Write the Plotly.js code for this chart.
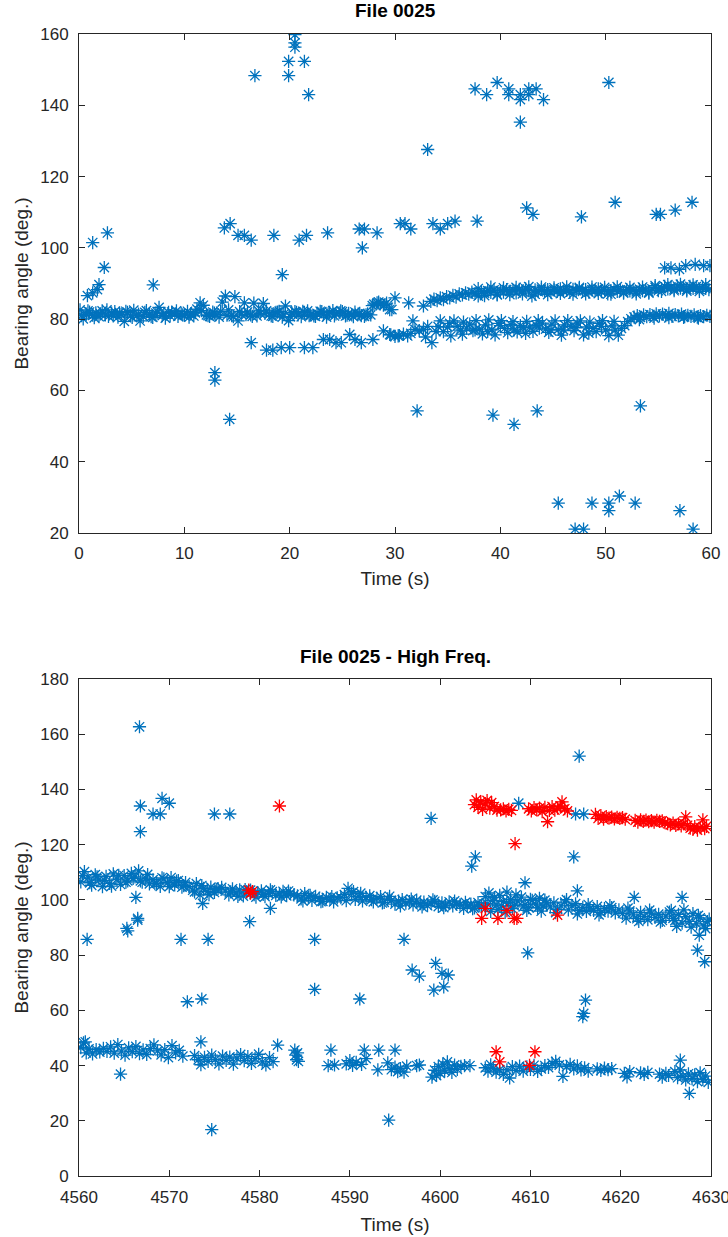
<!DOCTYPE html>
<html>
<head>
<meta charset="utf-8">
<script src="https://cdn.plot.ly/plotly-3.0.1.min.js"></script>
<style>html,body{margin:0;padding:0;background:#fff;}#chart{width:728px;height:1237px;}</style>
</head>
<body>
<div id="chart"></div>
<script>
// ---------- Top chart: File 0025 (time s, bearing deg) ----------
const topBandA = [[0.1,82.6],[0.4,80.1],[0.7,81.4],[1.0,82.0],[1.3,81.1],[1.6,81.8],[1.9,80.7],[2.2,82.3],[2.5,81.2],[2.8,80.8],
[3.1,81.7],[3.4,82.1],[3.7,80.6],[4.0,81.3],[4.3,79.4],[4.6,81.9],[4.9,80.9],[5.2,82.5],[5.5,81.0],[5.8,79.5],
[6.1,80.8],[6.4,82.4],[6.7,81.3],[7.0,80.5],[7.3,81.7],[7.6,83.3],[7.9,81.0],[8.2,80.3],[8.5,81.9],[8.8,82.0],
[9.1,81.4],[9.4,80.8],[9.7,81.6],[10.0,81.1],[10.3,82.2],[10.6,81.5],[10.9,80.9],[11.2,82.8],[11.5,84.6],[11.8,83.9],
[12.1,81.2],[12.4,80.8],[12.7,82.0],[13.0,81.3],[13.3,80.6],[13.6,84.8],[13.9,86.5],[14.2,82.6],[14.5,81.0],[14.8,86.3],
[15.1,79.5],[15.4,81.4],[15.7,84.6],[16.0,82.0],[16.3,81.2],[16.6,84.5],[16.9,80.9],[17.2,81.6],[17.5,84.4],[17.8,82.3],
[18.1,81.5],[18.4,80.8],[18.7,81.9],[19.0,82.2],[19.3,80.6],[19.6,83.7],[19.9,79.6],[20.2,81.8],[20.5,82.1],[20.8,81.2],
[21.1,80.7],[21.4,81.9],[21.7,82.3],[22.0,81.1],[22.3,80.9],[22.6,81.6],[22.9,82.2],[23.2,81.3],[23.5,80.6],[23.8,81.9],
[24.1,82.4],[24.4,81.5],[24.7,81.8],[25.0,82.1],[25.3,80.9],[25.6,81.6],[25.9,81.2],[26.2,82.0],[26.5,81.4],[26.8,81.0],
[27.1,80.8],[27.4,81.5],[27.7,81.2],[28.0,84.2],[28.3,84.6],[28.6,84.3],[28.9,83.9],[29.2,84.5],[29.5,82.7]];
const topBandB = [[0.25,81.0],[0.85,82.3],[1.45,80.4],[2.05,81.5],[2.65,82.6],[3.25,80.9],[3.85,81.8],[4.45,82.2],[5.05,80.5],[5.65,81.4],
[6.25,81.9],[6.85,80.7],[7.45,82.0],[8.05,81.6],[8.65,80.9],[9.25,82.3],[9.85,81.2],[10.45,80.6],[11.05,81.8],[11.65,82.4],
[12.25,81.0],[12.85,81.7],[13.45,82.2],[14.05,81.1],[14.65,80.7],[15.25,82.1],[15.85,81.3],[16.45,80.8],[17.05,82.3],[17.65,81.6],
[18.25,80.9],[18.85,82.0],[19.45,81.4],[20.05,80.7],[20.65,81.9],[21.25,82.2],[21.85,81.0],[22.45,80.8],[23.05,82.1],[23.65,81.5],
[24.25,80.9],[24.85,82.3],[25.45,81.1],[26.05,80.7],[26.65,81.6],[27.25,81.2],[27.85,83.8],[28.45,84.8],[29.05,84.1],
[29.7,82.7],[30.0,86.0],[31.3,84.6],[32.7,83.7]];
const topUpperA = [[33.4,85.0],[33.7,85.6],[34.0,85.2],[34.3,86.0],[34.6,85.5],[34.9,86.3],[35.2,86.0],[35.5,86.7],[35.8,86.2],[36.1,87.1],
[36.4,86.8],[36.7,87.4],[37.0,87.0],[37.3,87.6],[37.6,87.2],[37.9,86.5],[38.2,87.8],[38.5,87.3],[38.8,88.0],[39.1,87.5],
[39.4,88.2],[39.7,86.8],[40.0,88.0],[40.3,87.6],[40.6,88.3],[40.9,87.8],[41.2,88.1],[41.5,87.4],[41.8,88.4],[42.1,87.9],
[42.4,88.5],[42.7,88.0],[43.0,86.5],[43.3,88.2],[43.6,87.7],[43.9,88.4],[44.2,87.9],[44.5,88.3],[44.8,87.6],[45.1,88.2],
[45.4,87.8],[45.7,88.5],[46.0,87.9],[46.3,88.1],[46.6,87.5],[46.9,88.4],[47.2,88.0],[47.5,88.6],[47.8,87.8],[48.1,88.3],
[48.4,87.6],[48.7,88.2],[49.0,88.0],[49.3,88.5],[49.6,87.7],[49.9,88.3],[50.2,87.1],[50.5,88.0],[50.8,88.4],[51.1,87.8],
[51.4,88.2],[51.7,87.6],[52.0,88.3],[52.3,87.9],[52.6,88.1],[52.9,87.7],[53.2,88.4],[53.5,88.0],[53.8,88.2],[54.1,87.6],
[54.4,88.5],[54.7,88.9],[55.0,88.0],[55.3,88.6],[55.6,89.2],[55.9,88.5],[56.2,89.0],[56.5,88.4],[56.8,89.3],[57.1,88.7],
[57.4,89.0],[57.7,88.3],[58.0,89.2],[58.3,88.6],[58.6,89.1],[58.9,88.4],[59.2,89.0],[59.5,88.6],[59.8,88.3]];
const topUpperB = [[37.9,88.6],[38.5,86.6],[39.1,89.0],[39.7,87.0],[40.3,88.8],[40.9,86.9],[41.5,88.9],[42.1,87.1],[42.7,89.1],[43.3,87.0],
[43.9,89.0],[44.5,86.9],[45.1,88.8],[45.7,87.2],[46.3,89.1],[46.9,87.0],[47.5,88.9],[48.1,87.1],[48.7,89.0],[49.3,87.2],
[49.9,88.9],[50.5,87.0],[51.1,89.1],[51.7,87.3],[52.3,88.9],[52.9,87.1],[53.5,89.0],[54.1,87.3],[54.7,89.4],[55.3,87.8],
[55.9,89.7],[56.5,88.0],[57.1,89.8],[57.7,87.9],[58.3,89.6],[58.9,87.8],[59.5,89.7]];
const topLowerA = [[29.6,75.6],[30.0,75.2],[30.4,75.4],[30.8,75.8],[31.2,75.3],[31.7,79.5],[31.9,77.1],[32.3,76.8],[32.7,77.1],[33.1,78.0],
[33.5,73.4],[33.9,76.5],[34.3,79.5],[34.6,76.5],[35.0,77.8],[35.3,75.3],[35.6,79.5],[35.9,78.0],[36.2,76.9],[36.5,79.2],
[36.8,77.5],[37.1,78.6],[37.4,76.8],[37.7,79.6],[38.0,77.2],[38.3,75.9],[38.6,78.4],[38.9,79.8],[39.2,77.0],[39.5,75.6],
[39.8,78.8],[40.1,79.6],[40.4,77.4],[40.7,76.2],[41.0,78.5],[41.3,77.0],[41.6,76.4],[41.9,78.2],[42.2,77.6],[42.5,79.4],
[42.8,77.8],[43.1,76.6],[43.4,78.3],[43.7,77.5],[44.0,78.9],[44.3,77.2],[44.6,76.3],[44.9,78.6],[45.2,79.5],[45.5,77.1],
[45.8,75.5],[46.1,78.4],[46.4,79.6],[46.7,77.9],[47.0,76.8],[47.3,78.9],[47.6,79.5],[47.9,75.6],[48.2,77.8],[48.5,79.2],
[48.8,77.4],[49.1,76.5],[49.4,78.8],[49.7,79.6],[50.0,77.0],[50.3,75.4],[50.6,78.1],[50.9,76.9],[51.2,75.5],[51.5,77.4],
[51.8,78.2],[52.1,79.3],[52.4,80.1],[52.7,80.6],[53.0,81.0],[53.3,80.5],[53.6,81.2],[53.9,80.7],[54.2,81.3],[54.5,80.8],
[54.8,81.5],[55.1,80.9],[55.4,81.4],[55.7,81.0],[56.0,81.6],[56.3,80.8],[56.6,81.3],[56.9,80.9],[57.2,81.4],[57.5,80.7],
[57.8,81.1],[58.1,80.8],[58.4,81.2],[58.7,80.6],[59.0,81.0],[59.3,80.7],[59.6,81.1],[59.9,80.8]];
const topLowerB = [[31.5,76.0],[32.9,75.0],[34.1,77.9],[35.2,78.8],[36.4,75.8],[37.6,77.0],[38.8,76.6],[40.0,78.2],[41.2,79.3],[42.4,76.0],
[43.6,79.6],[44.8,76.9],[46.0,77.0],[47.2,77.6],[48.4,76.1],[49.6,78.0],[50.8,79.4],[53.2,79.9],[54.6,80.3],[56.0,80.4],
[57.4,80.5],[58.8,80.3]];
const topOutliers = [[1.3,101.5],[2.7,104.2],[2.4,94.5],[0.8,86.6],[1.3,87.4],[1.75,88.3],[1.9,89.7],[7.05,89.6],
[16.7,148.3],[19.9,152.3],[19.9,148.3],[20.5,159.8],[20.5,157.5],[20.5,156.3],[21.4,152.3],[21.8,143.0],
[13.8,105.6],[14.35,106.8],[15.1,103.5],[15.7,103.5],[16.35,102.2],[18.5,103.5],[19.3,92.5],[20.9,102.2],[21.6,103.5],
[23.6,104.2],[26.6,105.3],[27.1,105.3],[28.3,104.2],[26.9,100.0],[30.5,106.8],[30.95,106.8],[31.5,105.3],[33.6,106.8],
[34.3,105.3],[35.0,106.8],[35.7,107.5],[37.8,107.5],
[33.1,127.6],[37.6,144.6],[38.7,143.0],[39.7,146.4],[40.8,144.6],[40.8,143.0],[41.9,141.6],[41.9,143.0],[42.7,144.6],
[42.7,143.0],[43.4,144.6],[44.1,141.6],[41.9,135.3],[50.3,146.4],
[42.5,111.2],[43.1,109.4],[47.7,108.7],[50.9,112.8],[54.8,109.4],[55.2,109.4],[56.6,110.6],[58.2,112.8],
[55.6,94.4],[56.2,94.4],[57.0,94.0],[57.6,95.0],[58.5,95.4],[59.3,95.0],[59.9,95.0],
[12.9,65.0],[12.9,62.9],[14.3,51.9],
[16.35,73.4],[17.8,71.3],[18.4,71.3],[19.2,72.0],[20.0,72.0],[21.4,72.0],[22.2,72.0],[23.2,74.3],[23.8,74.3],[24.4,73.4],
[24.9,73.4],[25.7,75.7],[26.2,74.3],[26.8,73.4],[27.9,74.3],[28.9,76.7],[29.5,75.7],[30.3,75.3],
[32.1,54.3],[39.3,53.1],[41.3,50.5],[43.5,54.3],[53.3,55.7],
[45.5,28.4],[47.1,21.1],[47.9,21.1],[48.7,28.4],[50.3,28.4],[50.3,26.3],[51.3,30.4],[52.8,28.4],[57.05,26.3],[58.3,21.1]];

// ---------- Bottom chart: File 0025 - High Freq. ----------
const hfUpperA = [[4560.2,106.5],[4560.6,110.2],[4561.0,108.0],[4561.4,105.3],[4561.8,109.1],[4562.2,107.2],[4562.6,104.8],[4563.0,108.5],[4563.4,106.0],[4563.8,109.4],
[4564.2,107.5],[4564.6,105.6],[4565.0,108.8],[4565.4,106.9],[4565.8,109.6],
[4566.2,108.3],[4566.6,110.5],[4567.0,106.4],[4567.4,107.9],[4567.8,105.8],[4568.2,107.3],[4568.6,106.1],[4569.0,104.9],[4569.4,107.6],[4569.8,106.2],
[4570.2,108.1],[4570.6,105.4],[4571.0,107.0],[4571.4,104.6],[4571.8,106.3],
[4572.2,104.8],[4572.6,103.5],[4573.0,105.9],[4573.4,101.8],[4573.8,104.2],[4574.2,103.0],[4574.6,104.6],[4575.0,102.7],[4575.4,104.1],[4575.8,104.5],
[4576.2,103.2],[4576.6,101.8],[4577.0,104.0],[4577.4,102.5],[4577.8,103.6],[4578.2,101.4],[4578.6,102.9],[4579.0,103.5],[4579.4,101.9],[4579.8,102.6],
[4580.2,103.3],[4580.6,101.2],[4581.0,102.4],[4581.4,103.0],[4581.8,101.6],[4582.2,102.2],[4582.6,103.1],[4583.0,101.5],[4583.4,102.4],[4583.8,101.8],
[4584.2,101.5],[4584.6,100.4],[4585.0,102.3],[4585.4,101.0],[4585.8,99.8],[4586.2,101.3],[4586.6,100.6],[4587.0,99.5],[4587.4,100.9],[4587.8,100.2],
[4588.2,99.3],[4588.6,100.7],
[4589.0,100.8],[4589.4,101.9],[4589.8,104.2],[4590.2,102.5],[4590.6,100.2],[4591.0,101.3],[4591.4,99.6],[4591.8,100.9],[4592.2,101.5],[4592.6,99.3],
[4593.0,100.6],[4593.4,101.2],[4593.8,99.1],[4594.2,100.4],[4594.6,99.8],
[4595.0,98.5],[4595.4,99.6],[4595.8,100.1],[4596.2,98.8],[4596.6,99.4],[4597.0,98.2],[4597.4,99.9],[4597.8,98.6],[4598.2,99.2],[4598.6,97.9],
[4599.0,98.8],[4599.4,99.5],[4599.8,97.6],[4600.2,98.9],[4600.6,98.1],[4601.0,99.3],[4601.4,97.8],[4601.8,98.5],
[4602.2,98.2],[4602.6,96.9],[4603.0,97.8],[4603.4,98.5],[4603.8,97.1],[4604.2,99.0],[4604.6,97.6],[4605.0,101.2],[4605.4,102.5],[4605.8,99.8],
[4606.2,98.2],[4606.6,101.6],[4607.0,99.4],[4607.4,102.8],[4607.8,100.1],[4608.2,97.9],[4608.6,99.6],[4609.0,101.0],[4609.4,98.3],[4609.8,97.2],
[4610.2,99.8],[4610.6,98.5],[4611.0,100.6],[4611.4,97.8],[4611.8,98.9],
[4612.2,97.5],[4612.6,98.9],[4613.0,96.6],[4613.4,97.8],[4613.8,99.2],[4614.2,96.4],[4614.6,97.9],[4615.0,98.6],[4615.4,96.1],[4615.8,97.3],
[4616.2,95.8],[4616.6,97.0],[4617.0,96.2],[4617.4,97.6],[4617.8,95.5],[4618.2,96.8],[4618.6,95.9],[4619.0,97.2],[4619.4,95.3],[4619.8,96.4],
[4620.2,95.1],[4620.6,93.4],[4621.0,96.0],[4621.4,94.6],[4621.8,93.2],[4622.2,95.5],[4622.6,94.0],[4623.0,92.8],[4623.4,95.2],[4623.8,93.7],
[4624.2,94.8],[4624.6,92.6],[4625.0,94.1],[4625.4,95.6],[4625.8,93.3],
[4626.0,92.5],[4626.4,94.8],[4626.8,91.6],[4627.2,93.9],[4627.6,92.2],[4628.0,95.0],[4628.4,91.3],[4628.8,93.5],[4629.2,90.6],[4629.6,92.1]];
const hfUpperB = [[4560.4,108.8],[4561.2,106.2],[4562.0,108.3],[4562.8,107.1],[4563.6,105.0],[4564.4,108.9],[4565.2,106.4],[4566.0,107.8],
[4566.8,106.9],[4567.6,109.2],[4568.4,105.9],[4569.2,108.0],[4570.0,104.8],[4570.8,106.8],[4571.6,105.2],
[4572.8,102.9],[4573.6,105.2],[4574.4,101.9],[4575.2,103.8],
[4576.8,102.9],[4577.6,101.3],[4578.4,103.7],[4579.6,101.0],[4580.4,102.0],[4581.2,103.6],[4582.4,101.1],[4583.2,103.2],
[4584.8,99.6],[4585.6,101.6],[4586.8,99.4],[4588.0,101.2],
[4589.6,99.7],[4590.4,103.0],[4591.2,102.4],[4592.4,100.1],[4593.6,98.9],[4594.4,101.3],
[4595.6,97.8],[4596.8,100.3],[4598.0,97.5],[4599.2,100.0],[4600.4,97.2],[4601.6,99.6],
[4602.8,99.1],[4603.6,96.8],[4604.4,97.9],[4605.2,98.6],[4606.0,100.8],[4606.8,97.8],[4607.6,99.0],[4608.4,101.8],[4609.2,97.5],[4610.0,100.2],
[4610.8,97.1],[4611.6,99.9],[4605.6,95.8],[4606.4,96.5],[4607.2,95.5],[4608.0,96.8],[4609.6,96.2],[4611.2,95.9],
[4612.8,95.4],[4614.0,100.1],[4615.2,94.9],[4616.4,98.3],[4617.6,94.6],[4618.8,97.9],
[4620.8,97.0],[4622.0,92.2],[4623.2,96.3],[4624.4,92.0],[4625.6,96.2],
[4626.2,90.4],[4627.0,96.4],[4627.8,90.1],[4628.6,94.4],[4629.4,89.6],[4629.8,93.0]];
const hfLower = [[4560.2,46.5],[4560.5,48.2],[4560.8,44.6],[4561.1,46.0],[4561.5,44.2],[4561.9,45.8],[4562.3,44.9],[4562.7,46.2],[4563.1,45.1],[4563.5,46.8],
[4563.9,44.5],[4564.3,47.6],[4564.7,45.2],[4565.1,43.8],[4565.5,46.4],[4565.9,45.0],[4566.3,46.9],[4566.7,44.3],[4567.1,45.7],[4567.5,44.0],
[4567.9,46.1],[4568.3,47.5],[4568.7,45.3],[4569.1,43.9],[4569.5,45.8],[4569.9,42.9],[4570.3,47.2],[4570.7,44.6],[4571.1,45.5],[4571.5,43.4],
[4572.8,43.6],[4573.2,42.1],[4573.5,40.3],[4573.9,43.0],[4574.3,41.5],[4574.7,43.8],[4575.1,42.2],[4575.5,40.6],[4575.9,43.4],[4576.3,41.9],
[4576.7,43.1],[4577.1,40.5],[4577.5,42.7],[4577.9,44.0],[4578.3,41.8],[4578.7,43.2],[4579.1,40.8],[4579.5,42.5],[4579.9,44.1],[4580.3,41.3],
[4580.7,40.2],[4581.1,42.9],[4581.5,41.4],
[4583.9,45.6],[4584.0,43.8],[4584.1,42.1],[4584.2,44.6],[4584.3,41.5],
[4587.6,40.0],[4587.9,45.6],[4588.3,40.2],[4589.6,40.6],[4590.0,41.8],[4590.3,40.1],[4590.7,41.2],[4591.3,40.4],[4591.6,45.6],[4591.8,42.5],
[4593.2,45.6],[4593.1,38.4],[4594.2,41.0],[4594.6,38.5],[4595.0,39.4],[4595.3,37.8],[4595.6,38.9],[4596.0,37.6],[4596.3,39.8],
[4597.4,40.0],[4597.7,40.2],
[4599.1,35.8],[4599.4,38.3],[4599.6,36.4],[4599.8,39.6],[4600.0,37.2],[4600.3,40.5],[4600.5,38.1],[4600.8,41.3],[4601.0,39.0],[4601.3,37.5],
[4601.6,40.2],[4601.9,38.6],[4602.3,39.7],[4602.7,40.0],[4603.3,40.0],
[4605.0,39.2],[4605.3,38.0],[4605.6,40.3],[4605.9,39.0],[4606.2,37.6],[4606.6,38.5],[4607.0,36.8],[4607.4,38.4],[4607.7,35.5],[4608.0,39.6],
[4608.4,38.2],[4608.8,39.8],[4609.2,38.0],[4609.6,39.5],[4610.0,38.6],[4610.4,40.1],[4610.8,37.9],[4611.2,38.8],[4611.6,40.0],[4612.0,39.3],
[4612.4,40.8],[4612.8,41.5],[4613.2,40.2],[4613.6,36.1],[4614.0,39.6],[4614.4,40.4],[4614.8,38.8],[4615.2,39.9],[4615.6,38.4],[4616.0,39.2],
[4616.4,38.0],[4617.4,38.8],[4617.8,38.2],[4618.2,39.1],[4618.6,38.5],[4619.0,38.9],
[4620.4,37.2],[4620.7,35.9],[4621.0,37.8],[4622.2,37.4],[4622.6,36.8],[4623.0,37.5],[4624.3,36.9],[4624.6,35.8],[4625.0,37.2],[4625.3,36.4],
[4626.0,37.8],[4626.3,35.6],[4626.6,38.4],[4626.9,36.1],[4627.2,34.8],[4627.5,37.0],[4627.9,35.3],[4628.2,36.6],[4628.5,34.2],[4628.8,37.4],
[4629.1,35.0],[4629.4,36.2],[4629.7,33.9]];
const hfOutliers = [[4566.7,162.7],[4566.8,134.0],[4566.8,124.7],[4568.2,131.1],[4569.0,131.1],[4569.2,136.8],[4570.0,135.0],[4575.0,131.1],[4576.7,131.1],
[4566.3,100.9],[4566.5,93.3],[4565.3,89.7],[4573.7,98.7],[4578.9,92.1],[4581.2,96.9],[4560.9,85.7],[4565.4,88.8],[4566.5,92.7],
[4571.3,85.7],[4574.3,85.7],[4586.1,85.7],[4596.0,85.7],[4586.1,67.6],[4572.0,63.1],[4573.6,64.1],[4591.1,64.1],[4574.7,16.8],
[4594.3,20.2],[4564.6,36.9],[4573.5,48.6],[4582.0,47.4],[4560.7,48.6],
[4599.0,129.5],[4615.4,152.1],[4608.7,135.0],[4615.0,131.1],[4615.9,131.1],[4614.8,115.6],[4603.9,115.6],[4603.5,112.2],
[4609.4,106.2],[4615.2,103.3],[4621.5,100.9],[4626.8,100.9],
[4628.7,87.2],[4628.5,81.8],[4629.3,77.6],[4609.7,80.8],[4596.9,74.6],[4597.7,72.4],[4599.5,77.0],[4599.3,67.3],[4600.4,68.5],
[4600.2,73.4],[4600.9,72.8],[4616.1,63.7],[4615.8,57.7],[4615.9,58.9],[4627.6,29.9],[4626.6,42.0],[4595.0,45.6]];
const hfRed = [[4579.0,102.4],[4578.8,103.5],[4579.2,103.0],[4582.2,134.0],
[4603.8,134.5],[4604.0,136.2],[4604.2,133.5],[4604.5,135.5],[4604.7,132.8],[4605.0,134.8],[4605.2,136.0],[4605.5,133.2],[4605.7,135.2],[4606.0,133.8],
[4606.3,132.5],[4606.7,132.6],[4607.0,133.0],[4607.3,132.2],[4607.6,132.8],[4607.9,132.4],
[4609.8,133.0],[4610.1,132.2],[4610.4,133.4],[4610.7,132.6],[4611.0,133.2],[4611.3,132.0],[4611.6,133.5],[4611.9,128.3],[4612.1,132.4],[4612.4,133.8],
[4612.7,132.5],[4613.0,133.2],[4613.3,134.0],[4613.5,135.5],[4613.8,133.0],[4614.1,132.2],
[4617.2,131.0],[4617.5,129.5],[4617.8,130.5],[4618.1,129.2],[4618.4,130.2],[4618.7,129.6],[4619.0,130.0],[4619.3,129.3],[4619.6,129.9],[4619.9,129.5],
[4620.2,129.8],[4620.5,129.2],
[4621.6,128.8],[4621.9,128.2],[4622.2,129.0],[4622.5,128.4],[4622.8,128.9],[4623.1,128.3],[4623.4,128.7],[4623.7,128.2],[4624.0,128.8],[4624.3,128.4],
[4624.6,128.6],[4624.9,128.0],[4625.2,127.6],[4625.5,127.2],[4625.8,127.8],[4626.1,127.0],[4626.4,127.5],[4626.7,126.8],[4627.0,127.6],[4627.2,130.1],
[4627.4,127.0],[4627.7,126.0],[4628.0,125.5],[4628.2,126.5],[4628.5,125.3],[4628.8,126.2],[4629.1,129.0],[4629.3,125.8],[4629.5,126.6],
[4608.3,120.4],
[4605.0,96.9],[4604.6,93.3],[4606.4,93.3],[4607.4,96.1],[4608.2,93.3],[4608.5,93.3],[4613.0,94.5],
[4606.2,45.0],[4606.6,41.3],[4610.5,45.0],[4609.9,40.1]];

const topTicksX = [0,10,20,30,40,50,60];
const topTicksY = [20,40,60,80,100,120,140,160];
const hfTicksX = [4560,4570,4580,4590,4600,4610,4620,4630];
const hfTicksY = [0,20,40,60,80,100,120,140,160,180];

const BLUE = '#0072BD', RED = '#FF0000', INK = '#262626';
const FONT = 'Liberation Sans, Arial, Helvetica, sans-serif';

const topAll = [].concat(topBandA, topBandB, topUpperA, topUpperB, topLowerA, topLowerB, topOutliers);
const hfBlueAll = [].concat(hfUpperA, hfUpperB, hfLower, hfOutliers);

function mk(color){
  return {symbol:'asterisk-open', size:11, color:color, line:{width:1.3, color:color}};
}
const traces = [
  {type:'scatter', mode:'markers', x:topAll.map(p=>p[0]), y:topAll.map(p=>p[1]), xaxis:'x', yaxis:'y', marker:mk(BLUE), hoverinfo:'skip'},
  {type:'scatter', mode:'markers', x:hfBlueAll.map(p=>p[0]), y:hfBlueAll.map(p=>p[1]), xaxis:'x2', yaxis:'y2', marker:mk(BLUE), hoverinfo:'skip'},
  {type:'scatter', mode:'markers', x:hfRed.map(p=>p[0]), y:hfRed.map(p=>p[1]), xaxis:'x2', yaxis:'y2', marker:mk(RED), hoverinfo:'skip'}
];

function axis(extra){
  return Object.assign({
    showgrid:false, zeroline:false, showline:true, linecolor:INK, linewidth:1,
    mirror:'ticks', ticks:'inside', ticklen:6, tickwidth:1, tickcolor:INK,
    tickfont:{family:FONT, size:17, color:INK}, fixedrange:true
  }, extra);
}
const titleFont = {family:FONT, size:19, color:INK};

const layout = {
  width:728, height:1237,
  margin:{l:79, r:17, t:34, b:61},
  paper_bgcolor:'#fff', plot_bgcolor:'#fff',
  showlegend:false,
  font:{family:FONT, color:INK},
  xaxis: axis({domain:[0,1], anchor:'y', range:[0,60], tickvals:topTicksX, ticktext:topTicksX.map(String),
    title:{text:'Time (s)', font:titleFont, standoff:9}, ticklabelstandoff:5, ticklabeloverflow:'allow'}),
  yaxis: axis({domain:[0.563,1], anchor:'x', range:[20,160], tickvals:topTicksY, ticktext:topTicksY.map(String),
    title:{text:'Bearing angle (deg.)', font:titleFont, standoff:6}, ticklabelstandoff:6}),
  xaxis2: axis({domain:[0,1], anchor:'y2', range:[4560,4630], tickvals:hfTicksX, ticktext:hfTicksX.map(String),
    title:{text:'Time (s)', font:titleFont, standoff:11}, ticklabelstandoff:6, ticklabeloverflow:'allow'}),
  yaxis2: axis({domain:[0,0.4352], anchor:'x2', range:[0,180], tickvals:hfTicksY, ticktext:hfTicksY.map(String),
    title:{text:'Bearing angle (deg.)', font:titleFont, standoff:6}, ticklabelstandoff:6}),
  annotations:[
    {text:'<b>File 0025</b>', xref:'paper', yref:'paper', x:0.5, y:1.021, xanchor:'center', yanchor:'middle', showarrow:false,
     font:{family:FONT, size:19, color:'#000'}},
    {text:'<b>File 0025 - High Freq.</b>', xref:'paper', yref:'paper', x:0.5, y:0.4553, xanchor:'center', yanchor:'middle', showarrow:false,
     font:{family:FONT, size:19, color:'#000'}}
  ]
};
Plotly.newPlot('chart', traces, layout, {staticPlot:true, displayModeBar:false});
</script>
</body>
</html>
